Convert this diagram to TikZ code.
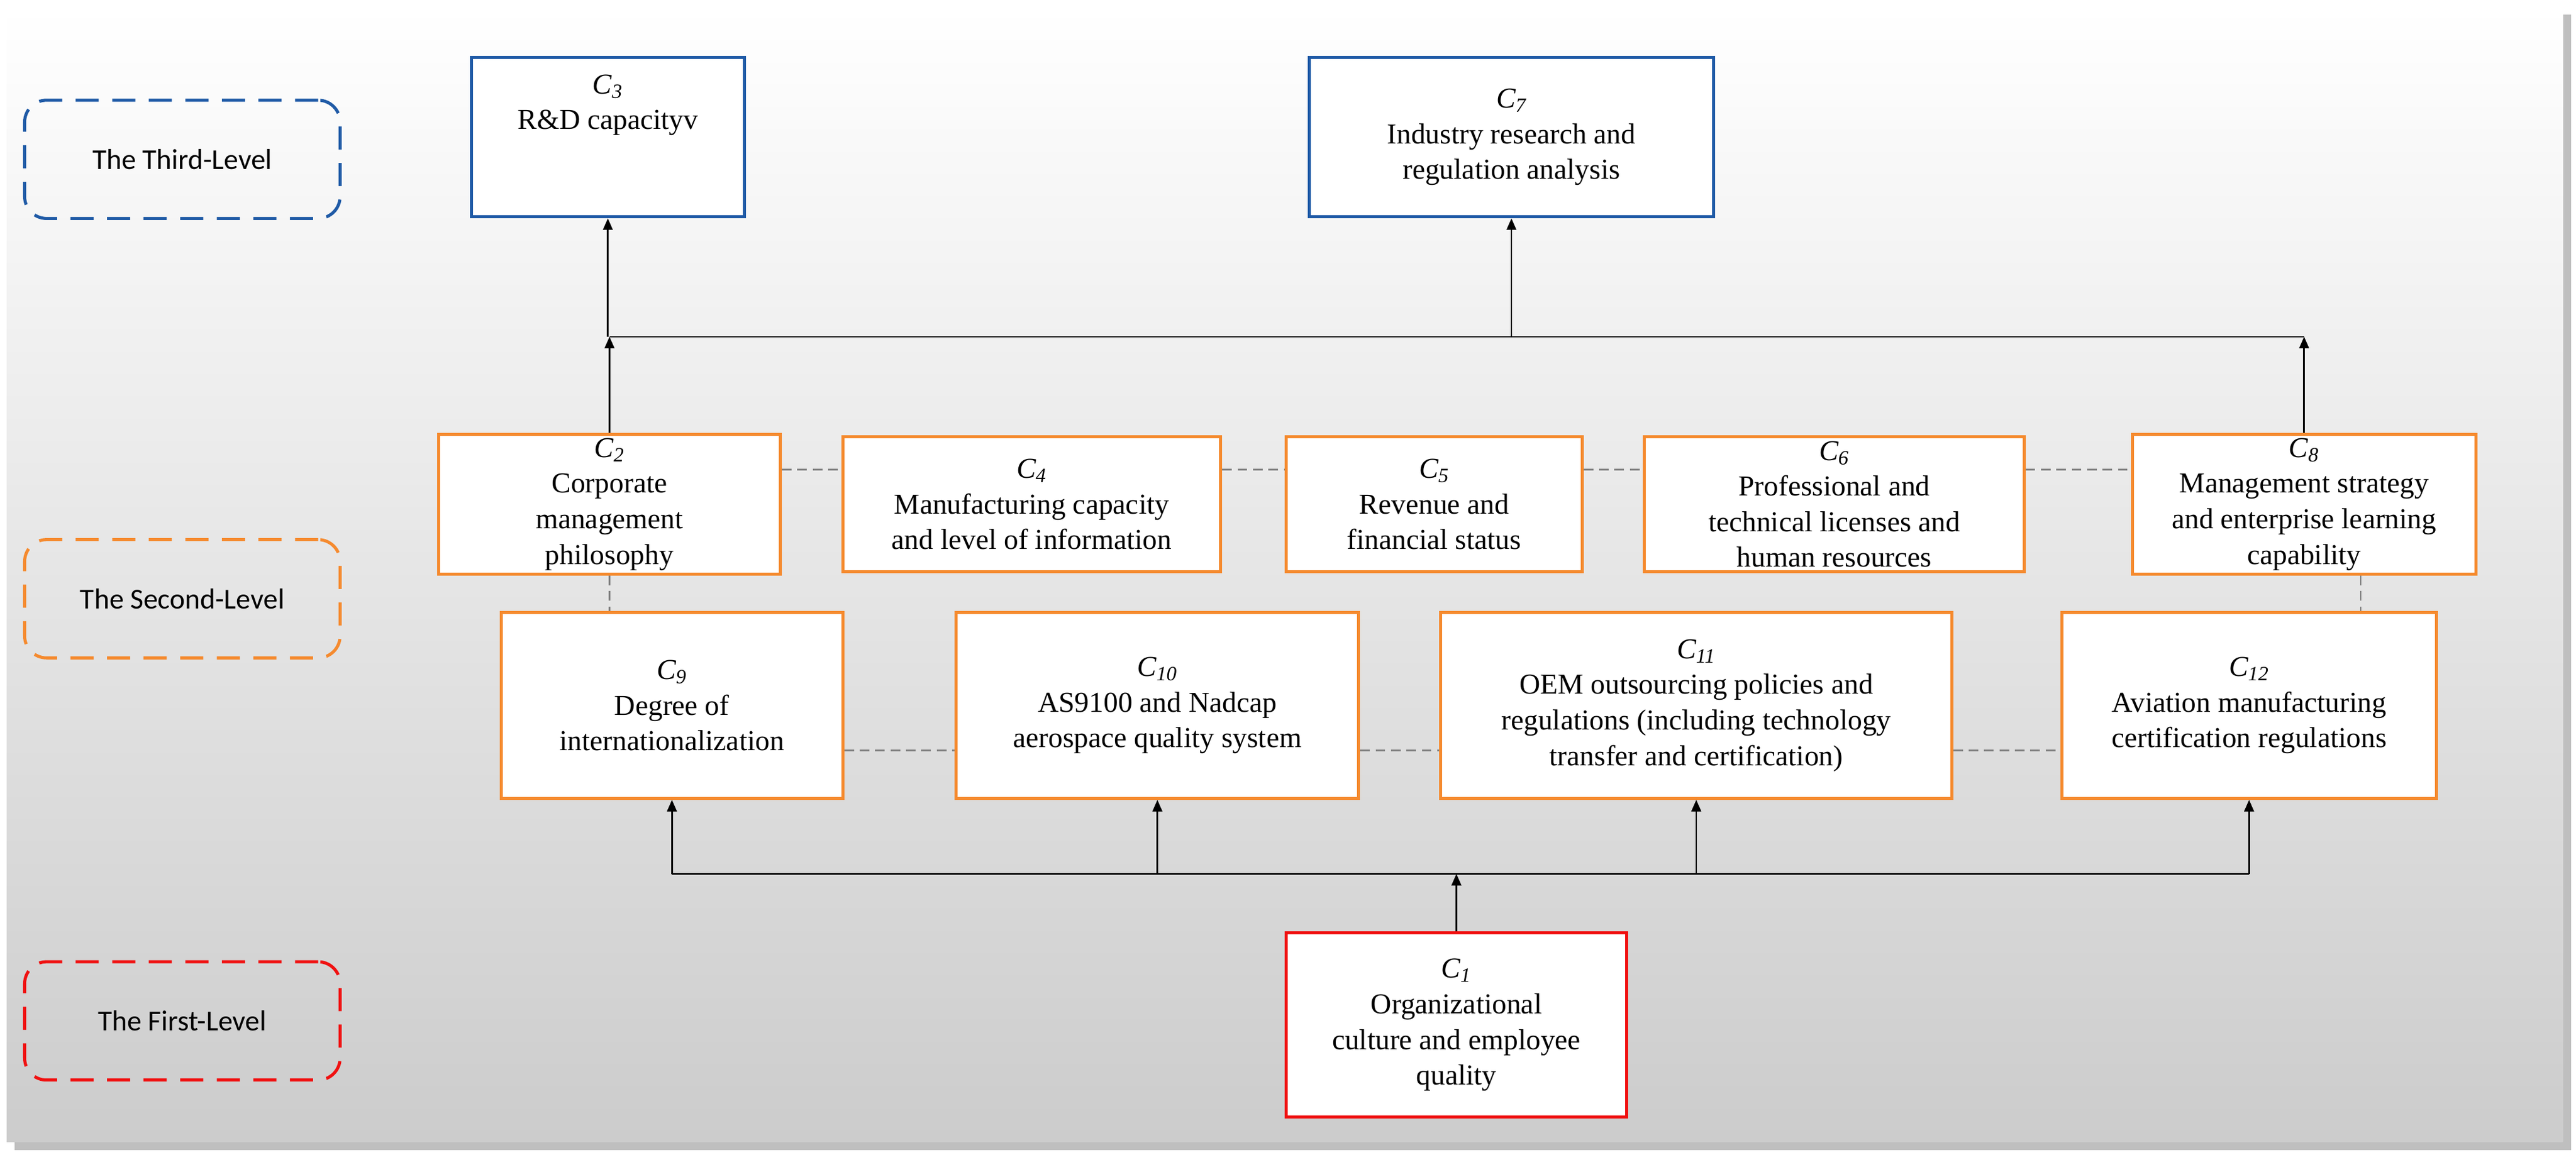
\documentclass[tikz,border=0pt]{standalone}
\usepackage{fontspec}
\setmainfont{Liberation Serif}
\newfontfamily\lblfont{Carlito}
\usepackage{xcolor}
\definecolor{lvlBlue}{HTML}{1F5AA6}
\definecolor{lvlOrange}{HTML}{F58A2E}
\definecolor{lvlRed}{HTML}{F01010}
\definecolor{linkGray}{HTML}{7F7F7F}
\usetikzlibrary{arrows.meta,positioning,calc,shadows}
\tikzset{
    crit/.style={
        draw,
        fill=white,
        rectangle,
        align=center,
        line width=1.6pt,
        inner sep=2pt,
        font=\fontsize{15}{18.5}\selectfont
    },
    third/.style={crit, draw=lvlBlue},
    second/.style={crit, draw=lvlOrange, minimum height=2.46cm},
    lower/.style={crit, draw=lvlOrange, minimum height=3.39cm},
    first/.style={crit, draw=lvlRed},
    level/.style={
        draw,
        dashed,
        dash pattern=on 12pt off 7pt,
        line width=1.6pt,
        rounded corners=4mm,
        minimum width=5.76cm,
        minimum height=2.16cm,
        font=\lblfont\fontsize{15}{18}\selectfont
    },
    arrow/.style={
        -{Triangle[length=6pt,width=5pt]},
        line width=0.9pt,
        color=black
    },
    link/.style={
        dashed,
        dash pattern=on 5pt off 3pt,
        line width=0.9pt,
        color=linkGray
    }
}
\begin{document}
\begin{tikzpicture}[x=0.03cm,y=-0.03cm]
    \useasboundingbox (0,0) rectangle (1568,703);
    % Background panel
    \fill[black!25] (9,9) rectangle (1565,700);
    \shade[top color=white, bottom color=black!20] (4,4) rectangle (1560,695);

    % Levels
    \node[level, draw=lvlBlue] (lv3) at (111,97) {The Third-Level};
    \node[level, draw=lvlOrange] (lv2) at (111,364.5) {The Second-Level};
    \node[level, draw=lvlRed] (lv1) at (111,621.5) {The First-Level};

    % Third level
    \node[third, minimum width=4.98cm, minimum height=2.91cm] (C3) at (370,83.5) {\textit{C\textsubscript{3}}\\R\&D capacityv\\[18pt]};
    \node[third, minimum width=7.38cm, minimum height=2.91cm] (C7) at (920,83.5) {\textit{C\textsubscript{7}}\\Industry research and\\regulation analysis};

    % Second level, upper row
    \node[second, minimum width=6.24cm] (C2) at (371,307) {\textit{C\textsubscript{2}}\\Corporate\\management\\philosophy};
    \node[second, minimum width=6.9cm] (C4) at (628,307) {\textit{C\textsubscript{4}}\\Manufacturing capacity\\and level of information};
    \node[second, minimum width=5.4cm] (C5) at (873,307) {\textit{C\textsubscript{5}}\\Revenue and\\financial status};
    \node[second, minimum width=6.93cm] (C6) at (1116.5,307) {\textit{C\textsubscript{6}}\\Professional and\\technical licenses and\\human resources};
    \node[second, minimum width=6.27cm] (C8) at (1402.5,307) {\textit{C\textsubscript{8}}\\Management strategy\\and enterprise learning\\capability};

    % Second level, lower row
    \node[lower, minimum width=6.24cm] (C9) at (409,429.5) {\textit{C\textsubscript{9}}\\Degree of\\internationalization};
    \node[lower, minimum width=7.35cm] (C10) at (704.5,429.5) {\textit{C\textsubscript{10}}\\AS9100 and Nadcap\\aerospace quality system};
    \node[lower, minimum width=9.33cm] (C11) at (1032.5,429.5) {\textit{C\textsubscript{11}}\\OEM outsourcing policies and\\regulations (including technology\\transfer and certification)};
    \node[lower, minimum width=6.84cm] (C12) at (1369,429.5) {\textit{C\textsubscript{12}}\\Aviation manufacturing\\certification regulations};

    % First level
    \node[first, minimum width=6.21cm, minimum height=3.36cm] (C1) at (886.5,624) {\textit{C\textsubscript{1}}\\Organizational\\culture and employee\\quality};

    % Buses
    \coordinate (tbus) at (0,205);
    \coordinate (bbus) at (0,532);

    % Connections upward to third level
    \draw[line width=0.9pt] (C2.north|-tbus) -- (C8.north|-tbus);
    \foreach \target in {C2, C8} {
        \draw[arrow] (\target.north) -- (\target.north|-tbus);
    }
    \foreach \target in {C3, C7} {
        \draw[arrow] (\target.south|-tbus) -- (\target.south);
    }

    % Connections from first level
    \draw[line width=0.9pt] (C9.south|-bbus) -- (C12.south|-bbus);
    \foreach \target in {C9, C10, C11, C12} {
        \draw[arrow] (\target.south|-bbus) -- (\target.south);
    }
    \draw[arrow] (C1.north) -- (C1.north|-bbus);

    % Dashed links
    \foreach \a/\b in {C2/C4, C4/C5, C5/C6, C6/C8} {
        \draw[link] ([yshift=0.63cm]\a.east) -- ([yshift=0.63cm]\b.west);
    }
    \foreach \a/\b in {C9/C10, C10/C11, C11/C12} {
        \draw[link] ([yshift=-0.825cm]\a.east) -- ([yshift=-0.825cm]\b.west);
    }
    \draw[link] (C2.south) -- (C2.south|-C9.north);
    \draw[link] ([xshift=1.035cm]C8.south) -- ([xshift=1.035cm]C8.south|-C12.north);
\end{tikzpicture}
\end{document}
